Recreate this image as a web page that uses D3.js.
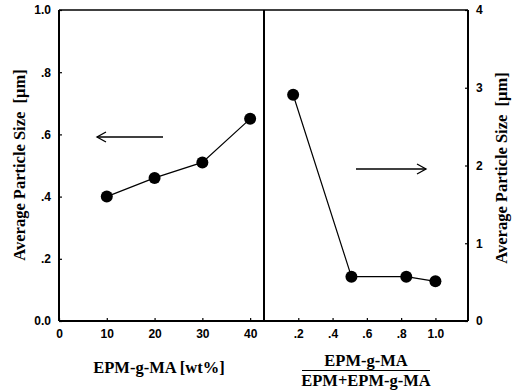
<!DOCTYPE html>
<html>
<head>
<meta charset="utf-8">
<script src="https://cdn.jsdelivr.net/npm/d3@7"></script>
<style>
  body { margin: 0; background: #fff; }
  svg { display: block; }
  .tick-label { font-family: "Liberation Sans", Arial, sans-serif; font-weight: bold; font-size: 12px; fill: #000; }
  .title { font-family: "Liberation Serif", "Times New Roman", serif; font-weight: bold; font-size: 16.5px; fill: #000; white-space: pre; }
</style>
</head>
<body>
<svg id="chart" width="521" height="392"></svg>
<script>
// Left panel: particle size vs EPM-g-MA content
const leftX = [10, 20, 30, 40];
const leftY = [0.40, 0.46, 0.51, 0.65];
const leftXTicks = [0, 10, 20, 30, 40];
const leftYTicks = [0, 0.2, 0.4, 0.6, 0.8, 1.0];
const leftYTickLabels = ["0.0", ".2", ".4", ".6", ".8", "1.0"];

// Right panel: particle size vs EPM-g-MA fraction
const rightX = [0.17, 0.51, 0.83, 1.0];
const rightY = [2.91, 0.57, 0.57, 0.51];
const rightXTicks = [0.2, 0.4, 0.6, 0.8, 1.0];
const rightXTickLabels = [".2", ".4", ".6", ".8", "1.0"];
const rightYTicks = [0, 1, 2, 3, 4];

const svg = d3.select("#chart");

const plotTop = 10, plotBottom = 321;
const xl = d3.scaleLinear().domain([0, 42.9]).range([59, 264]);
const xr = d3.scaleLinear().domain([0, 1.19]).range([264, 468]);
const yl = d3.scaleLinear().domain([0, 1]).range([plotBottom, plotTop]);
const yr = d3.scaleLinear().domain([0, 4]).range([plotBottom, plotTop]);

// frame
svg.append("line").attr("x1", xl(0)).attr("x2", xr(1.19)).attr("y1", plotTop).attr("y2", plotTop)
  .attr("stroke", "#000").attr("stroke-width", 1.3);
svg.append("line").attr("x1", xl(0)).attr("x2", xr(1.19)).attr("y1", plotBottom).attr("y2", plotBottom)
  .attr("stroke", "#000").attr("stroke-width", 2);
svg.append("line").attr("x1", xl(0)).attr("x2", xl(0)).attr("y1", plotTop).attr("y2", plotBottom)
  .attr("stroke", "#000").attr("stroke-width", 2);
svg.append("line").attr("x1", xr(0)).attr("x2", xr(0)).attr("y1", plotTop).attr("y2", plotBottom)
  .attr("stroke", "#000").attr("stroke-width", 2);
svg.append("line").attr("x1", xr(1.19)).attr("x2", xr(1.19)).attr("y1", plotTop).attr("y2", plotBottom)
  .attr("stroke", "#000").attr("stroke-width", 2);

// axes
function styleAxis(g) {
  g.select(".domain").remove();
  g.selectAll(".tick line").attr("stroke", "#000").attr("stroke-width", 1.2);
  g.selectAll(".tick text").attr("class", "tick-label").attr("fill", "#000");
}

svg.append("g").attr("transform", `translate(0,${plotBottom})`)
  .call(d3.axisBottom(xl).tickValues(leftXTicks).tickSizeInner(-3).tickPadding(8).tickFormat(d3.format("d")))
  .call(styleAxis);

svg.append("g").attr("transform", `translate(0,${plotBottom})`)
  .call(d3.axisBottom(xr).tickValues(rightXTicks).tickSizeInner(-3).tickPadding(8)
    .tickFormat((d, i) => rightXTickLabels[i]))
  .call(styleAxis);

svg.append("g").attr("transform", `translate(${xl(0)},0)`)
  .call(d3.axisLeft(yl).tickValues(leftYTicks).tickSizeInner(-3).tickPadding(8)
    .tickFormat((d, i) => leftYTickLabels[i]))
  .call(styleAxis);

svg.append("g").attr("transform", `translate(${xr(1.19)},0)`)
  .call(d3.axisRight(yr).tickValues(rightYTicks).tickSizeInner(-3).tickPadding(8).tickFormat(d3.format("d")))
  .call(styleAxis);

// data lines and markers
const lineL = d3.line().x((d, i) => xl(leftX[i])).y(d => yl(d));
const lineR = d3.line().x((d, i) => xr(rightX[i])).y(d => yr(d));

svg.append("path").attr("d", lineL(leftY)).attr("fill", "none").attr("stroke", "#000").attr("stroke-width", 1.2);
svg.append("path").attr("d", lineR(rightY)).attr("fill", "none").attr("stroke", "#000").attr("stroke-width", 1.2);

svg.selectAll("circle.l").data(leftY).join("circle").attr("class", "l")
  .attr("cx", (d, i) => xl(leftX[i])).attr("cy", d => yl(d)).attr("r", 6).attr("fill", "#000");
svg.selectAll("circle.r").data(rightY).join("circle").attr("class", "r")
  .attr("cx", (d, i) => xr(rightX[i])).attr("cy", d => yr(d)).attr("r", 6).attr("fill", "#000");

// arrows indicating which axis each panel uses
function arrow(x1, x2, y, dir) {
  svg.append("line").attr("x1", x1).attr("x2", x2).attr("y1", y).attr("y2", y)
    .attr("stroke", "#000").attr("stroke-width", 1.3);
  const tip = dir < 0 ? x1 : x2;
  svg.append("path")
    .attr("d", `M${tip - dir * 9},${y - 5} L${tip},${y} L${tip - dir * 9},${y + 5}`)
    .attr("fill", "none").attr("stroke", "#000").attr("stroke-width", 1.3);
}
arrow(97, 163, 137, -1);
arrow(356, 426, 169, 1);

// titles
svg.append("text").attr("class", "title").attr("text-anchor", "middle")
  .attr("transform", `translate(25,165) rotate(-90)`).text("Average Particle Size  [μm]");
svg.append("text").attr("class", "title").attr("text-anchor", "middle")
  .attr("transform", `translate(507,168) rotate(-90)`).text("Average Particle Size  [μm]");

svg.append("text").attr("class", "title").attr("text-anchor", "middle")
  .attr("x", 159).attr("y", 373).text("EPM-g-MA [wt%]");

svg.append("text").attr("class", "title").attr("text-anchor", "middle")
  .attr("x", 366).attr("y", 366).text("EPM-g-MA");
svg.append("line").attr("x1", 302).attr("x2", 430).attr("y1", 370.5).attr("y2", 370.5)
  .attr("stroke", "#000").attr("stroke-width", 1.2);
svg.append("text").attr("class", "title").attr("text-anchor", "middle")
  .attr("x", 366).attr("y", 386).text("EPM+EPM-g-MA");
</script>
</body>
</html>
